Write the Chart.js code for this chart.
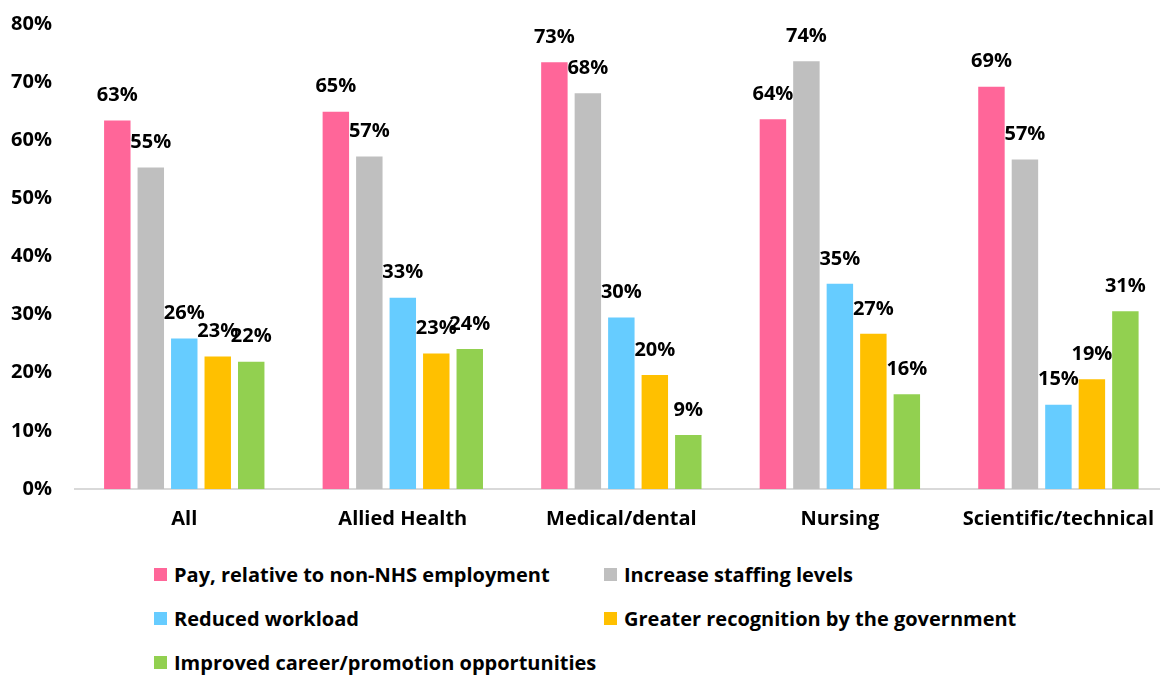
<!DOCTYPE html>
<html>
<head>
<meta charset="utf-8">
<script src="https://cdn.jsdelivr.net/npm/chart.js@4"></script>
<style>
  html, body { margin: 0; padding: 0; background: #fff; overflow: hidden; }
  #wrap { position: absolute; left: 0; top: -11px; width: 1172px; height: 556px; }
  #legend {
    position: absolute; left: 154px; top: 552px;
    display: grid; grid-template-columns: 450px 450px; grid-auto-rows: 44px;
    font-family: "Open Sans", sans-serif; font-weight: bold; font-size: 20px; color: #000;
  }
  #legend .item { display: flex; align-items: center; white-space: nowrap; }
  #legend .box { width: 13px; height: 13px; margin-right: 7px; flex: none; }
</style>
</head>
<body>
<div id="wrap"><canvas id="chart"></canvas></div>
<div id="legend"></div>
<script>
const categories = ["All", "Allied Health", "Medical/dental", "Nursing", "Scientific/technical"];
const seriesNames = [
  "Pay, relative to non-NHS employment",
  "Increase staffing levels",
  "Reduced workload",
  "Greater recognition by the government",
  "Improved career/promotion opportunities"
];
const pay = [63.4, 64.9, 73.4, 63.6, 69.2];
const staffing = [55.3, 57.2, 68.1, 73.6, 56.7];
const workload = [25.9, 32.9, 29.5, 35.3, 14.5];
const recognition = [22.8, 23.3, 19.6, 26.7, 18.9];
const career = [21.9, 24.1, 9.3, 16.3, 30.6];
const colours = ["#FF6699", "#BFBFBF", "#66CCFF", "#FFC000", "#92D050"];

const series = [pay, staffing, workload, recognition, career];

// value labels above each bar
const barLabels = {
  id: 'barLabels',
  afterDatasetsDraw(chart) {
    const ctx = chart.ctx;
    ctx.save();
    ctx.font = 'bold 20px "Open Sans"';
    ctx.fillStyle = '#000';
    ctx.textAlign = 'center';
    ctx.textBaseline = 'middle';
    chart.data.datasets.forEach((ds, i) => {
      chart.getDatasetMeta(i).data.forEach((bar, j) => {
        ctx.fillText(Math.round(ds.data[j]) + '%', bar.x, bar.y - 25);
      });
    });
    ctx.restore();
  }
};

const chart = new Chart(document.getElementById('chart'), {
  type: 'bar',
  data: {
    labels: categories,
    datasets: series.map((d, i) => ({
      label: seriesNames[i],
      data: d,
      backgroundColor: colours[i],
      categoryPercentage: 0.766,
      barPercentage: 0.79
    }))
  },
  options: {
    responsive: true,
    maintainAspectRatio: false,
    animation: false,
    layout: { padding: { top: 1, left: 0, right: 0, bottom: 0 } },
    plugins: {
      legend: { display: false },
      tooltip: { enabled: false }
    },
    scales: {
      x: {
        grid: { drawOnChartArea: false, drawTicks: false },
        border: { display: true, color: '#D9D9D9', width: 2 },
        ticks: {
          color: '#000',
          padding: 18,
          font: { family: 'Open Sans', weight: 'bold', size: 20 }
        },
        afterFit: s => { s.height = 56; }
      },
      y: {
        min: 0,
        max: 80,
        grid: { display: false, drawTicks: false },
        border: { display: false },
        ticks: {
          stepSize: 10,
          padding: 23,
          color: '#000',
          callback: v => v + '%',
          font: { family: 'Open Sans', weight: 'bold', size: 20 }
        },
        afterFit: s => { s.width = 75; }
      }
    }
  },
  plugins: [barLabels]
});

// two-column legend under the chart
const legendEl = document.getElementById('legend');
seriesNames.forEach((name, i) => {
  const item = document.createElement('div');
  item.className = 'item';
  const box = document.createElement('span');
  box.className = 'box';
  box.style.background = colours[i];
  const txt = document.createElement('span');
  txt.textContent = name;
  item.appendChild(box);
  item.appendChild(txt);
  legendEl.appendChild(item);
});
</script>
</body>
</html>
